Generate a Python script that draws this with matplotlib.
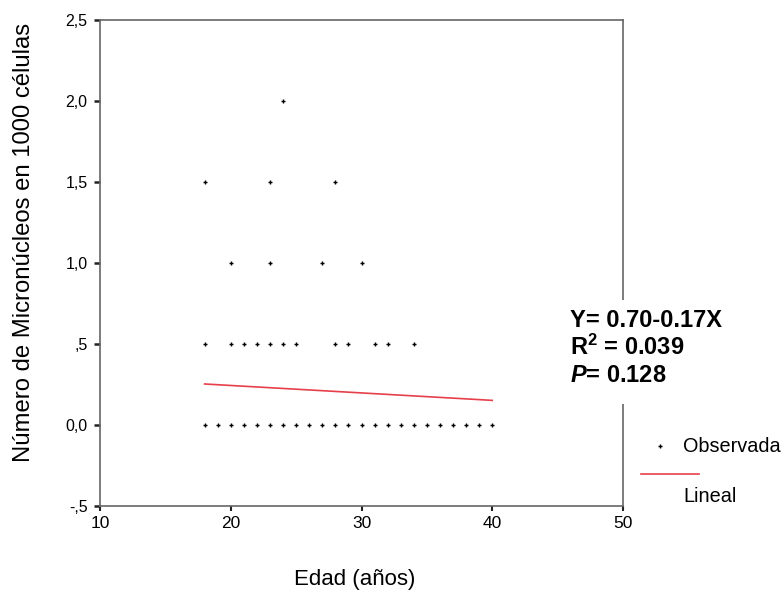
import matplotlib
matplotlib.use("Agg")
import matplotlib.pyplot as plt
from matplotlib.lines import Line2D
from matplotlib.patches import Rectangle

plt.rcParams['font.family'] = ['Liberation Sans', 'DejaVu Sans']
plt.rcParams['mathtext.fontset'] = 'custom'
plt.rcParams['mathtext.rm'] = 'Liberation Sans:bold'
plt.rcParams['mathtext.bf'] = 'Liberation Sans:bold'
plt.rcParams['mathtext.it'] = 'Liberation Sans:bold:italic'

# edad de cada individuo y su frecuencia de micronucleos
edad = [18, 19, 20, 21, 22, 23, 24, 25, 26, 27, 28, 29, 30, 31, 32, 33, 34,
        35, 36, 37, 38, 39, 40,
        18, 20, 21, 22, 23, 24, 25, 28, 29, 31, 32, 34,
        20, 23, 27, 30,
        18, 23, 28,
        24]
micronucleos = [0.0] * 23 + [0.5] * 12 + [1.0] * 4 + [1.5] * 3 + [2.0]

# recta de regresion lineal
recta_x = [18, 40]
intercepto = 0.336
pendiente = -0.0046

yticks = [-0.5, 0.0, 0.5, 1.0, 1.5, 2.0, 2.5]
ytick_labels = ['-,5', '0,0', ',5', '1,0', '1,5', '2,0', '2,5']
xticks = [10, 20, 30, 40, 50]

W, H = 782, 599
fig = plt.figure(figsize=(W / 100, H / 100), dpi=100)
ax = fig.add_axes([100 / W, 1 - 506 / H, 523 / W, 486 / H])

ax.plot(edad, micronucleos, linestyle='none', marker='+', ms=3.5, mew=1.0,
        color='black', zorder=3)
recta_y = [intercepto + pendiente * x for x in recta_x]
ax.plot(recta_x, recta_y, color='#e6404a', lw=1.2, zorder=2)

ax.set_xlim(10, 50)
ax.set_ylim(-0.5, 2.5)
ax.set_xticks(xticks)
ax.set_yticks(yticks)
ax.set_yticklabels(ytick_labels)
ax.tick_params(axis='y', length=4, width=1.8, color='#222222', pad=5,
               labelsize=11.5)
ax.tick_params(axis='x', length=3.5, width=1.5, color='#222222', pad=4,
               labelsize=12.5)
for s in ax.spines.values():
    s.set_color('#666666')
    s.set_linewidth(1.2)

fig.text(24 / W, 1 - 242 / H, 'Número de Micronúcleos en 1000 células',
         rotation=90, ha='center', va='center', fontsize=17.2)
fig.text(355 / W, 1 - 579 / H, 'Edad (años)', ha='center', va='center',
         fontsize=16)

# cuadro con la ecuacion, tapa parte del borde derecho
fig.add_artist(Rectangle((556 / W, 1 - 404 / H), 180 / W, 104 / H,
                         transform=fig.transFigure, facecolor='white',
                         edgecolor='none', zorder=1))
fig.text(570 / W, 1 - 327 / H, 'Y= 0.70-0.17X', fontsize=17,
         fontweight='bold', va='baseline', zorder=3)
fig.text(570 / W, 1 - 355 / H, r'R$^{2}$ = 0.039', fontsize=17,
         fontweight='bold', va='baseline', zorder=3)
fig.text(570 / W, 1 - 382 / H, r'$\mathit{P}$= 0.128', fontsize=17,
         fontweight='bold', va='baseline', zorder=3)

# leyenda
fig.add_artist(Line2D([660 / W], [1 - 446 / H], marker='+', ms=3.5, mew=1.0,
                      color='black', linestyle='none',
                      transform=fig.transFigure))
fig.add_artist(Line2D([641 / W, 699 / W], [1 - 474 / H, 1 - 474 / H],
                      color='#e6404a', lw=1.2, transform=fig.transFigure))
fig.text(683 / W, 1 - 446 / H, 'Observada', fontsize=14.3, va='center')
fig.text(683 / W, 1 - 497 / H, 'Lineal', fontsize=14.3, va='center')

fig.savefig('out.png', dpi=100)
